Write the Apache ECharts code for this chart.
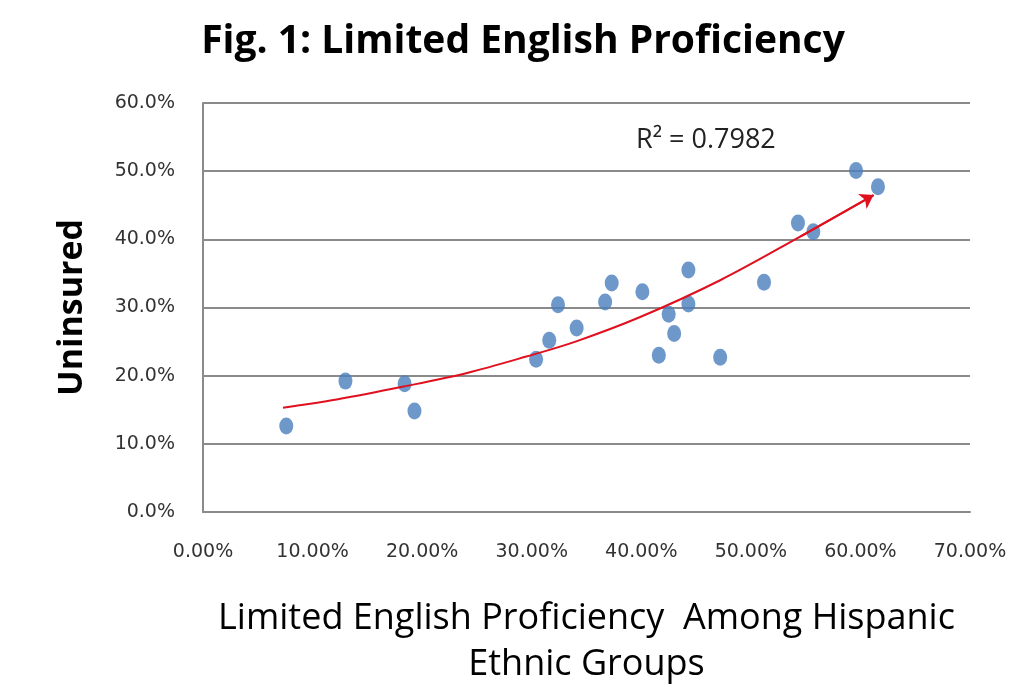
<!DOCTYPE html>
<html>
<head>
<meta charset="utf-8">
<script src="https://cdn.jsdelivr.net/npm/echarts@6/dist/echarts.min.js"></script>
<style>html,body{margin:0;padding:0;background:#fff;}#c{width:1010px;height:688px;}</style>
</head>
<body>
<div id="c"></div>
<script>
// Limited English proficiency (%) and uninsured (%) for Hispanic ethnic groups
const lepX = [7.6, 13.0, 18.4, 19.3, 30.4, 31.6, 32.4, 34.1, 36.7, 37.3, 40.1, 41.6, 42.5, 43.0, 44.3, 44.3, 47.2, 51.2, 54.3, 55.7, 59.6, 61.6];
const uninsuredY = [12.6, 19.2, 18.8, 14.8, 22.4, 25.2, 30.4, 27.0, 30.8, 33.6, 32.3, 23.0, 29.0, 26.2, 35.5, 30.5, 22.7, 33.7, 42.4, 41.1, 50.1, 47.7];
// trend line
const trendX = [7.3, 12.2, 18.3, 24.1, 29.5, 34.0, 39.9, 47.2, 54.5, 61.2];
const trendY = [15.3, 16.5, 18.4, 20.4, 22.8, 25.0, 28.6, 34.0, 40.4, 46.5];
const xTicks = [0, 10, 20, 30, 40, 50, 60, 70];
const yTicks = [0, 10, 20, 30, 40, 50, 60];
const titleText = 'Fig. 1: Limited English Proficiency';
const xName = 'Limited English Proficiency  Among Hispanic\nEthnic Groups';
const yName = 'Uninsured';
const r2Text = 'R² = 0.7982';

const points = lepX.map((x, i) => [x, uninsuredY[i]]);
const trend = trendX.map((x, i) => [x, trendY[i]]);
const n = trend.length;

const chart = echarts.init(document.getElementById('c'), null, {renderer: 'canvas'});
chart.setOption({
  backgroundColor: '#ffffff',
  animation: false,
  grid: {left: 203, right: 40, top: 103, bottom: 176, containLabel: false, outerBoundsMode: 'none'},
  xAxis: {
    type: 'value', min: xTicks[0], max: xTicks[xTicks.length - 1], interval: 10,
    name: xName, nameLocation: 'middle', nameGap: 84,
    nameTextStyle: {fontFamily: 'Open Sans', fontSize: 36, color: '#000', lineHeight: 46},
    axisLine: {show: true, lineStyle: {color: '#8a8a8a', width: 2}},
    axisTick: {show: false},
    splitLine: {show: false},
    axisLabel: {margin: 31, fontFamily: 'DejaVu Sans', fontSize: 19, color: '#333',
      formatter: v => v.toFixed(2) + '%'}
  },
  yAxis: {
    type: 'value', min: yTicks[0], max: yTicks[yTicks.length - 1], interval: 10,
    name: yName, nameLocation: 'middle', nameGap: 114, nameRotate: 90,
    nameTextStyle: {fontFamily: 'Open Sans', fontWeight: 'bold', fontSize: 34, color: '#000'},
    axisLine: {show: true, lineStyle: {color: '#8a8a8a', width: 2}},
    axisTick: {show: false},
    splitLine: {show: true, lineStyle: {color: '#8a8a8a', width: 2}},
    axisLabel: {margin: 28, fontFamily: 'DejaVu Sans', fontSize: 19, color: '#333',
      formatter: v => v.toFixed(1) + '%'}
  },
  graphic: [{
    type: 'text', x: 523, y: 42,
    style: {text: titleText, fontFamily: 'Open Sans', fontWeight: 'bold', fontSize: 39,
      fill: '#000', align: 'center', verticalAlign: 'middle'}
  }, {
    type: 'text', x: 636, y: 140,
    style: {text: r2Text, fontFamily: 'Open Sans', fontSize: 27, fill: '#222',
      align: 'left', verticalAlign: 'middle'}
  }],
  series: [
    {
      type: 'line', data: trend, smooth: 0.35, showSymbol: false, z: 3,
      lineStyle: {color: '#e0101e', width: 2}
    },
    {
      type: 'lines', coordinateSystem: 'cartesian2d', z: 4,
      symbol: ['none', 'arrow'], symbolSize: 13,
      lineStyle: {color: '#e0101e', width: 2, opacity: 1},
      data: [{coords: [trend[n - 2], trend[n - 1]]}]
    },
    {
      type: 'scatter', data: points, symbol: 'circle', symbolSize: [14, 17], z: 2,
      itemStyle: {color: '#4a7ebb'}
    }
  ]
});
</script>
</body>
</html>
